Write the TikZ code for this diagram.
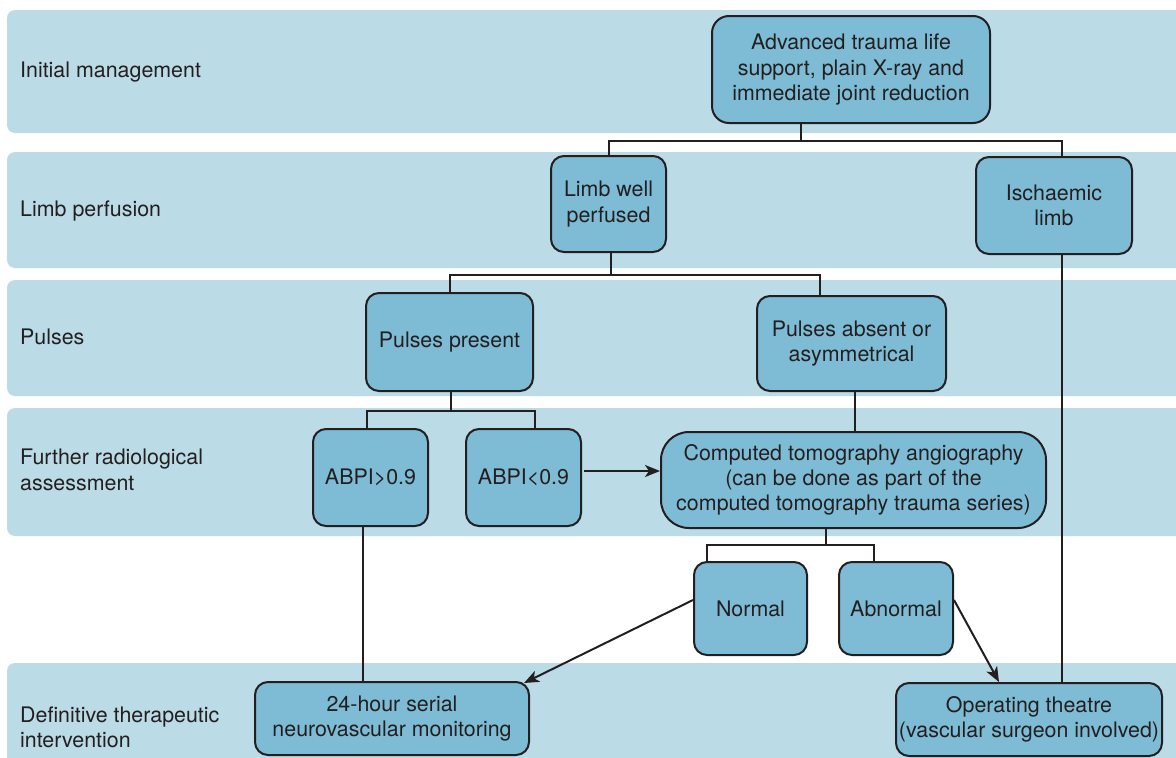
\documentclass[tikz,border=0pt]{standalone}
\usepackage{fontspec}
\setmainfont{TeX Gyre Heros}
\usetikzlibrary{arrows.meta}
\definecolor{bandblue}{HTML}{BBDBE7}
\definecolor{boxblue}{HTML}{7DBCD4}
\definecolor{ink}{HTML}{231F20}
\tikzset{
  band/.style={fill=bandblue, rounded corners=8pt},
  lane/.style={anchor=west, align=left, text=ink, inner sep=0pt},
  box/.style={draw=ink, fill=boxblue, line width=2pt, rounded corners=13pt, align=center, inner sep=0pt, text=ink},
  link/.style={draw=ink, line width=2pt},
  arr/.style={link, -{Stealth[length=15pt, width=12pt, inset=4pt]}}
}
\begin{document}
\begin{tikzpicture}[x=1pt, y=-1pt, font=\fontsize{21.4}{25.3}\selectfont]
\useasboundingbox (0,0) rectangle (1176,758);
\clip (0,0) rectangle (1176,758);
\fill[band] (7,10) rectangle (1200,133);
\fill[band] (7,152) rectangle (1200,268);
\fill[band] (7,280) rectangle (1200,396);
\fill[band] (7,408) rectangle (1200,536);
\fill[band] (7,663) rectangle (1200,790);
\node (lane1) [lane] at (20,72) {Initial management};
\node (lane2) [lane] at (20,211) {Limb perfusion};
\node (lane3) [lane] at (20,337) {Pulses};
\node (lane4) [lane] at (20,470) {Further radiological\\assessment};
\node (lane5) [lane] at (20,727) {Definitive therapeutic\\intervention};
\node (atls) [box, minimum width=278pt, minimum height=107pt, rounded corners=17pt] at (851,69.5) {Advanced trauma life\\support, plain X-ray and\\immediate joint reduction};
\node (well) [box, minimum width=115pt, minimum height=96pt] at (608.5,204) {Limb well\\perfused};
\node (isch) [box, minimum width=156pt, minimum height=97pt] at (1054,205.5) {Ischaemic\\limb};
\node (present) [box, minimum width=167pt, minimum height=98pt] at (449.5,342) {Pulses present};
\node (absent) [box, minimum width=189pt, minimum height=95pt] at (851.5,343.5) {Pulses absent or\\asymmetrical};
\node (abpihi) [box, minimum width=115pt, minimum height=97pt] at (370.5,477.5) {ABPI>0.9};
\node (abpilo) [box, minimum width=115pt, minimum height=97pt] at (523.5,477.5) {ABPI<0.9};
\node (cta) [box, minimum width=385pt, minimum height=96pt, rounded corners=28pt] at (853.5,480) {Computed tomography angiography\\(can be done as part of the\\computed tomography trauma series)};
\node (normal) [box, minimum width=113pt, minimum height=93pt] at (750.5,608.5) {Normal};
\node (abnormal) [box, minimum width=114pt, minimum height=93pt] at (896,608.5) {Abnormal};
\node (monitor) [box, minimum width=274pt, minimum height=73pt] at (392,718.5) {24-hour serial\\neurovascular monitoring};
\node (theatre) [box, minimum width=266pt, minimum height=73pt] at (1029,719.5) {Operating theatre\\(vascular surgeon involved)};
\coordinate (iv) at (1062,0);
\draw[link] ([xshift=-50]atls.south) -- ++(0,17) coordinate (j1);
\draw[link] (well.north) |- (j1) -| (iv |- isch.north);
\draw[link] (iv |- isch.south) -- (iv |- theatre.north);
\draw[link] ([xshift=2.5]well.south) -- ++(0,22) coordinate (j2);
\draw[link] (present.north) |- (j2) -| ([xshift=-31.5]absent.north);
\draw[link] ([xshift=1.5]present.south) -- ++(0,19) coordinate (j3);
\draw[link] ([xshift=-3.5]abpihi.north) |- (j3) -| ([xshift=11.5]abpilo.north);
\draw[arr] ([xshift=2,yshift=6.5]abpilo.east) -- ([yshift=6.5]abpilo.east -| cta.west);
\draw[link] ([xshift=3.5]absent.south) -- ([xshift=3.5]absent.south |- cta.north);
\draw[link] ([xshift=-27.5]cta.south) -- ++(0,16) coordinate (j4);
\draw[link] ([xshift=-43.5]normal.north) |- (j4) -| ([xshift=-22]abnormal.north);
\draw[link] ([xshift=-7.5]abpihi.south) -- ([xshift=-7.5]abpihi.south |- monitor.north);
\draw[arr] ([yshift=8.5]normal.west) -- ([xshift=-6,yshift=-2]monitor.north east);
\draw[arr] ([yshift=8.5]abnormal.east) -- ([xshift=-30]theatre.north);
\end{tikzpicture}
\end{document}
